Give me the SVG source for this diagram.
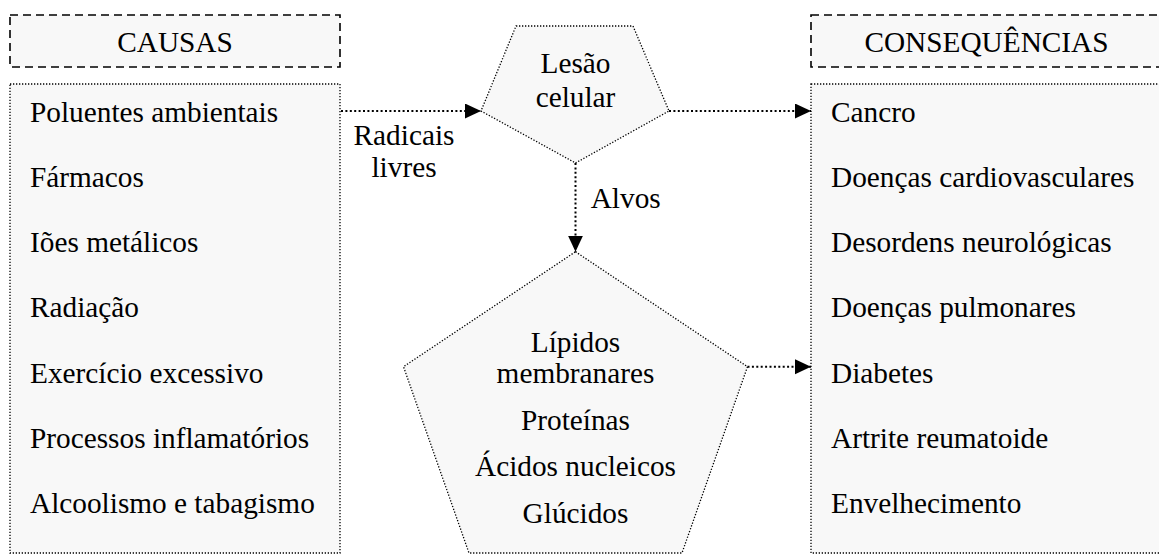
<svg xmlns="http://www.w3.org/2000/svg" width="1159" height="554" viewBox="0 0 1159 554">
<style>
text{font-family:"Times New Roman","Liberation Serif",Tinos,"DejaVu Serif",serif;font-size:29.3px;fill:#000}
.m{text-anchor:middle}
.hdr{fill:#f8f8f8;stroke:#000;stroke-width:1.6;stroke-dasharray:8 5}
.box{fill:#f8f8f8;stroke:#000;stroke-width:1.3;stroke-dasharray:1.3 1.7}
.con{fill:none;stroke:#000;stroke-width:2;stroke-dasharray:2 2.4}
</style>
<defs>
<marker id="ah" markerUnits="userSpaceOnUse" markerWidth="17" markerHeight="16" refX="16" refY="7.5" orient="auto">
<path d="M0,0 L16,7.5 L0,15 Z" fill="#000"/>
</marker>
</defs>
<rect width="1159" height="554" fill="#fff"/>
<g id="causas-header">
<rect class="hdr" x="10" y="15" width="330" height="52"/>
<text class="m" x="175" y="52">CAUSAS</text>
</g>
<g id="causas-list">
<rect class="box" x="10" y="84" width="330" height="469"/>
<text x="30" y="121.5">Poluentes ambientais</text>
<text x="30" y="186.8">Fármacos</text>
<text x="30" y="252.1">Iões metálicos</text>
<text x="30" y="317.4">Radiação</text>
<text x="30" y="382.7">Exercício excessivo</text>
<text x="30" y="448">Processos inflamatórios</text>
<text x="30" y="513.3">Alcoolismo e tabagismo</text>
</g>
<g id="consequencias-header">
<rect class="hdr" x="811" y="15" width="352" height="52"/>
<text class="m" x="986.5" y="52">CONSEQUÊNCIAS</text>
</g>
<g id="consequencias-list">
<rect class="box" x="811" y="84" width="352" height="469"/>
<text x="831" y="121.5">Cancro</text>
<text x="831" y="186.8">Doenças cardiovasculares</text>
<text x="831" y="252.1">Desordens neurológicas</text>
<text x="831" y="317.4">Doenças pulmonares</text>
<text x="831" y="382.7">Diabetes</text>
<text x="831" y="448">Artrite reumatoide</text>
<text x="831" y="513.3">Envelhecimento</text>
</g>
<g id="lesao">
<polygon class="box" points="516,26 633,26 669,111 575.5,163 481,111"/>
<text class="m" x="575.5" y="73">Lesão</text>
<text class="m" x="575.5" y="107">celular</text>
</g>
<g id="alvos">
<polygon class="box" points="575.5,251.7 747.5,366.7 682,553 469,553 403.5,366.7"/>
<text class="m" x="575.5" y="351.7">Lípidos</text>
<text class="m" x="575.5" y="383.3">membranares</text>
<text class="m" x="575.5" y="430">Proteínas</text>
<text class="m" x="575.5" y="476">Ácidos nucleicos</text>
<text class="m" x="575.5" y="522.7">Glúcidos</text>
</g>
<g id="connectors">
<line class="con" x1="341" y1="111" x2="481" y2="111" marker-end="url(#ah)"/>
<line class="con" x1="669" y1="111" x2="811" y2="111" marker-end="url(#ah)"/>
<line class="con" x1="575.5" y1="163" x2="575.5" y2="251.7" marker-end="url(#ah)"/>
<line class="con" x1="747.5" y1="366.7" x2="811" y2="366.7" marker-end="url(#ah)"/>
<text class="m" x="404" y="145">Radicais</text>
<text class="m" x="404" y="176.7">livres</text>
<text x="590.7" y="208">Alvos</text>
</g>
</svg>
